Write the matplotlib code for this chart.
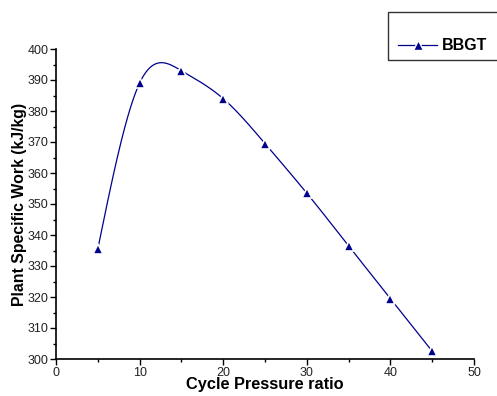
import numpy as np
import matplotlib
matplotlib.use('Agg')
from matplotlib import pyplot as plt
from matplotlib.patches import Rectangle
from matplotlib.ticker import MultipleLocator

plt.rcParams['font.family'] = ['Liberation Sans', 'DejaVu Sans']

# data
pressure_ratio = [5, 10, 15, 20, 25, 30, 35, 40, 45]
specific_work = [335.5, 389, 393, 384, 369.5, 353.5, 336.5, 319.5, 302.5]


def natural_spline(x, y, n=400):
    # smooth curve through the points, like the Origin spline connector
    x = np.asarray(x, float)
    y = np.asarray(y, float)
    k = len(x)
    h = np.diff(x)
    A = np.zeros((k, k))
    b = np.zeros(k)
    A[0, 0] = A[-1, -1] = 1
    for i in range(1, k - 1):
        A[i, i - 1] = h[i - 1]
        A[i, i] = 2 * (h[i - 1] + h[i])
        A[i, i + 1] = h[i]
        b[i] = 6 * ((y[i + 1] - y[i]) / h[i] - (y[i] - y[i - 1]) / h[i - 1])
    m = np.linalg.solve(A, b)
    xs = np.linspace(x[0], x[-1], n)
    idx = np.clip(np.searchsorted(x, xs) - 1, 0, k - 2)
    t0 = xs - x[idx]
    t1 = x[idx + 1] - xs
    hi = h[idx]
    ys = (m[idx] * t1 ** 3 + m[idx + 1] * t0 ** 3) / (6 * hi) \
        + (y[idx] / hi - m[idx] * hi / 6) * t1 \
        + (y[idx + 1] / hi - m[idx + 1] * hi / 6) * t0
    return xs, ys


fig = plt.figure(figsize=(4.97, 3.96), dpi=100)
ax = fig.add_axes([56 / 497, 1 - 359 / 396, (474 - 56) / 497, (359 - 49) / 396])

col = '#00008B'
xs, ys = natural_spline(pressure_ratio, specific_work)
ax.plot(xs, ys, color=col, lw=0.9, zorder=2)
ax.plot(pressure_ratio, specific_work, ls='none', marker='^', ms=7.5,
        color=col, mec='white', mew=1.2, zorder=3)

ax.set_xlim(0, 50)
ax.set_ylim(300, 400)
ax.xaxis.set_major_locator(MultipleLocator(10))
ax.xaxis.set_minor_locator(MultipleLocator(5))
ax.yaxis.set_major_locator(MultipleLocator(10))
ax.yaxis.set_minor_locator(MultipleLocator(5))
ax.spines['top'].set_visible(False)
ax.spines['right'].set_visible(False)
for s in ('left', 'bottom'):
    ax.spines[s].set_linewidth(1.2)
ax.tick_params(which='major', direction='out', length=4, width=1, labelsize=9,
               pad=1.5, labelcolor='#222222')
ax.tick_params(which='minor', direction='out', length=2.5, width=1)

ax.set_xlabel('Cycle Pressure ratio', fontsize=11.8, fontweight='bold', labelpad=-1)
ax.set_ylabel('Plant Specific Work (kJ/kg)', fontsize=11.4, fontweight='bold', labelpad=0)

# legend box
fig.patches.append(Rectangle((388 / 497, 1 - 60 / 396), 0.3, 48 / 396,
                             transform=fig.transFigure, fill=False,
                             ec='#333333', lw=1))
fig.legend(handles=ax.lines[:1], labels=['BBGT'], frameon=False,
           loc='center left', bbox_to_anchor=(398 / 497, 1 - 46 / 396),
           handlelength=2.45, handletextpad=0.3, borderaxespad=0, borderpad=0,
           prop={'weight': 'bold', 'size': 11.5})
leg_line = fig.legends[0].get_lines()[0]
leg_line.set_marker('^')
leg_line.set_markersize(6.5)
leg_line.set_markeredgecolor('white')
leg_line.set_markeredgewidth(1)

fig.savefig('out.png', dpi=100)
